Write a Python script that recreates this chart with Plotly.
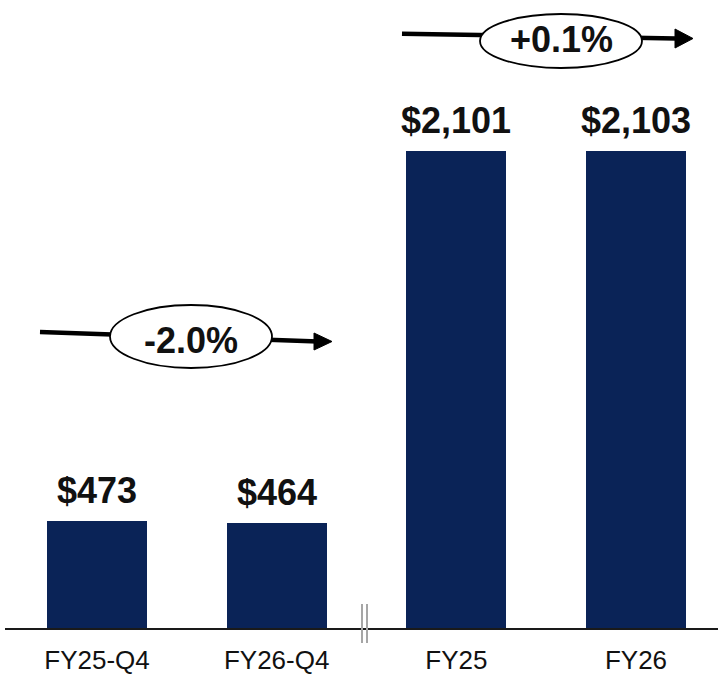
import plotly.graph_objects as go

categories = ["FY25-Q4", "FY26-Q4", "FY25", "FY26"]
values = [473, 464, 2101, 2103]
value_labels = ["$473", "$464", "$2,101", "$2,103"]
changes = ["-2.0%", "+0.1%"]

W, H = 718, 676
ML, MR, MT, MB = 5, 0, 0, 48
PW, PH = W - ML - MR, H - MT - MB

def px(x):
    return (x - ML) / PW

def py(y):
    return (H - MB - y) / PH

BAR = "#0A2357"
FONT = "Liberation Sans, Arial, sans-serif"

pos = list(range(len(categories)))
fig = go.Figure(go.Bar(
    x=pos, y=values, width=0.557, marker=dict(color=BAR, line=dict(width=0)),
    hoverinfo="skip",
))

shapes = []
annotations = []

for xv, yv, lab in zip(pos, values, value_labels):
    annotations.append(dict(xref="x", yref="y", x=xv, y=yv, text=f"<b>{lab}</b>",
                            showarrow=False, xanchor="center", yanchor="bottom", yshift=8,
                            font=dict(family=FONT, size=36, color="#111111")))

def change_arrow(x0, y0, x1, y1, tip_x, tip_y, head_h, ex0, ex1, ey0, ey1, label, ty):
    shapes.append(dict(type="line", xref="paper", yref="paper",
                       x0=px(x0), y0=py(y0), x1=px(x1), y1=py(y1),
                       line=dict(color="black", width=4.5)))
    bx = tip_x - 18
    path = (f"M {px(bx)} {py(tip_y - head_h / 2)} L {px(tip_x)} {py(tip_y)} "
            f"L {px(bx)} {py(tip_y + head_h / 2)} Z")
    shapes.append(dict(type="path", xref="paper", yref="paper", path=path,
                       fillcolor="black", line=dict(color="black", width=1)))
    shapes.append(dict(type="circle", xref="paper", yref="paper",
                       x0=px(ex0), x1=px(ex1), y0=py(ey1), y1=py(ey0),
                       fillcolor="white", line=dict(color="black", width=1.8)))
    annotations.append(dict(xref="paper", yref="paper", x=px((ex0 + ex1) / 2), y=py(ty),
                            text=f"<b>{label}</b>", showarrow=False,
                            xanchor="center", yanchor="middle",
                            font=dict(family=FONT, size=36, color="#111111")))

change_arrow(40, 332, 318, 341.5, 332, 341.5, 17, 110, 272, 305, 368, changes[0], 341)
change_arrow(402, 33.7, 676, 38.5, 693, 38.5, 19, 480, 642, 14, 68, changes[1], 40)

for bx in (362, 367):
    shapes.append(dict(type="line", xref="paper", yref="paper",
                       x0=px(bx), x1=px(bx), y0=py(604), y1=py(643),
                       line=dict(color="#A6A6A6", width=2)))

unit = 179.67
x_left = -(97 - ML) / unit
x_right = x_left + PW / unit

fig.update_layout(
    width=W, height=H,
    margin=dict(l=ML, r=MR, t=MT, b=MB),
    paper_bgcolor="white", plot_bgcolor="white",
    showlegend=False,
    bargap=0,
    xaxis=dict(range=[x_left, x_right], tickvals=pos, ticktext=categories,
               showline=True, linecolor="#1a1a1a", linewidth=2,
               showgrid=False, zeroline=False, ticks="", ticklabelstandoff=8,
               tickfont=dict(family=FONT, size=26, color="#111111")),
    yaxis=dict(range=[0, (H - MB - MT) / 477 * values[2]], visible=False, showgrid=False),
    shapes=shapes,
    annotations=annotations,
)

fig.write_html("out.html")
